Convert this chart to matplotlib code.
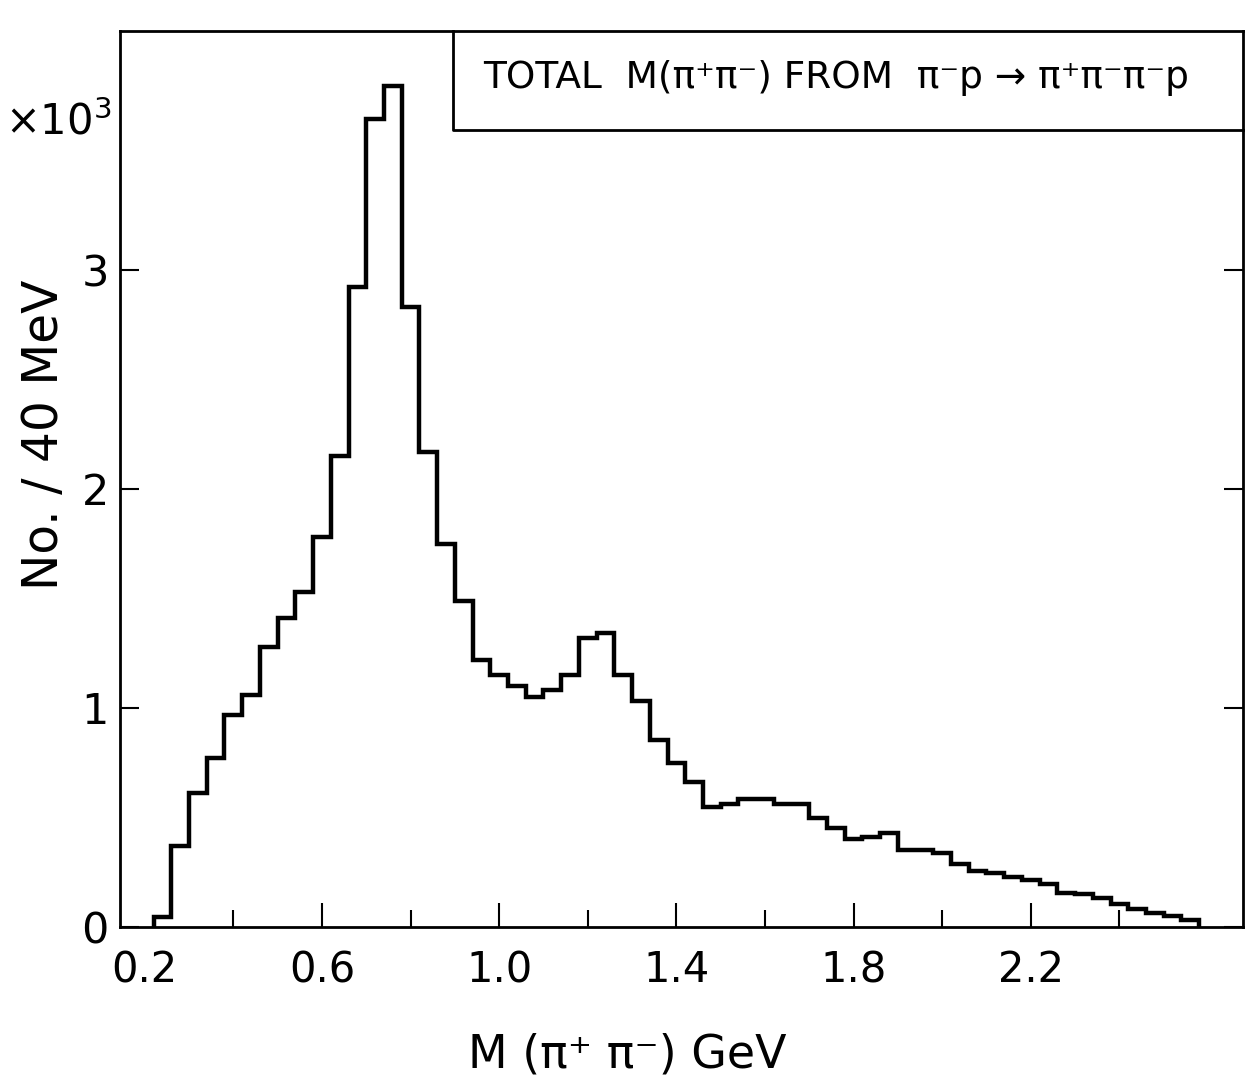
import numpy as np
import matplotlib
matplotlib.use("Agg")
import matplotlib.pyplot as plt

plt.rcParams['font.family'] = ['DejaVu Sans']
plt.rcParams['mathtext.fontset'] = 'dejavusans'

# 40 MeV bins, first bin edge in GeV
bin_start = 0.22
bin_width = 0.04

# entries per bin, in units of 10^3
counts_k = [0.045, 0.37, 0.61, 0.77, 0.97, 1.06, 1.28, 1.41, 1.53, 1.78,
            2.15, 2.92, 3.69, 3.84, 2.83, 2.17, 1.75, 1.49, 1.22, 1.15,
            1.10, 1.05, 1.08, 1.15, 1.32, 1.34, 1.15, 1.03, 0.855, 0.75,
            0.66, 0.55, 0.56, 0.585, 0.585, 0.56, 0.56, 0.50, 0.45, 0.40,
            0.41, 0.43, 0.35, 0.35, 0.34, 0.29, 0.254, 0.248, 0.228, 0.217,
            0.197, 0.154, 0.152, 0.133, 0.107, 0.083, 0.063, 0.05, 0.03]

x_labels = ['0.2', '0.6', '1.0', '1.4', '1.8', '2.2']
x_label_pos = [0.2, 0.6, 1.0, 1.4, 1.8, 2.2]
x_minor = [0.4, 0.8, 1.2, 1.6, 2.0, 2.4]
y_ticks = [0, 1, 2, 3]

edges = bin_start + bin_width * np.arange(len(counts_k) + 1)

fig = plt.figure(figsize=(12.52, 10.90), dpi=100)
ax = fig.add_axes([0.0958, 0.1495, 0.897, 0.822])

ax.stairs(counts_k, edges, color='black', linewidth=3.2, baseline=0)

ax.set_xlim(0.144, 2.679)
ax.set_ylim(0, 4.09)

for s in ax.spines.values():
    s.set_linewidth(2.0)

ax.set_xticks(x_label_pos)
ax.set_xticklabels(x_labels)
ax.set_xticks(x_minor, minor=True)
ax.set_yticks(y_ticks)
ax.set_yticklabels([str(v) for v in y_ticks])

ax.tick_params(axis='x', which='major', direction='in', length=17, width=1.5,
               labelsize=30, pad=16, top=False)
ax.tick_params(axis='x', which='minor', direction='in', length=12, width=1.5,
               top=False)
ax.tick_params(axis='y', which='major', direction='in', length=14, width=1.5,
               labelsize=31, pad=8, right=True)
ax.xaxis.get_major_ticks()[0].tick1line.set_visible(False)

ax.set_ylabel('No. / 40 MeV', fontsize=35, va='center', ha='center')
ax.yaxis.set_label_coords(-0.068, 0.549)
ax.set_xlabel('M (π⁺ π⁻) GeV', fontsize=33, va='center', ha='center')
ax.xaxis.set_label_coords(0.452, -0.143)

ax.text(-0.055, 0.898, r'$\times 10^3$', transform=ax.transAxes,
        fontsize=30, ha='center', va='center')

# title box in upper right corner
bx, by = 0.2965, 0.8895
ax.plot([bx, bx, 1.0], [1.0, by, by], transform=ax.transAxes,
        color='black', linewidth=2.0, clip_on=False)
ax.text(0.6376, 0.9475, 'TOTAL  M(π⁺π⁻) FROM  π⁻p → π⁺π⁻π⁻p',
        transform=ax.transAxes, fontsize=27, ha='center', va='center')

fig.savefig('out.png', dpi=100)
